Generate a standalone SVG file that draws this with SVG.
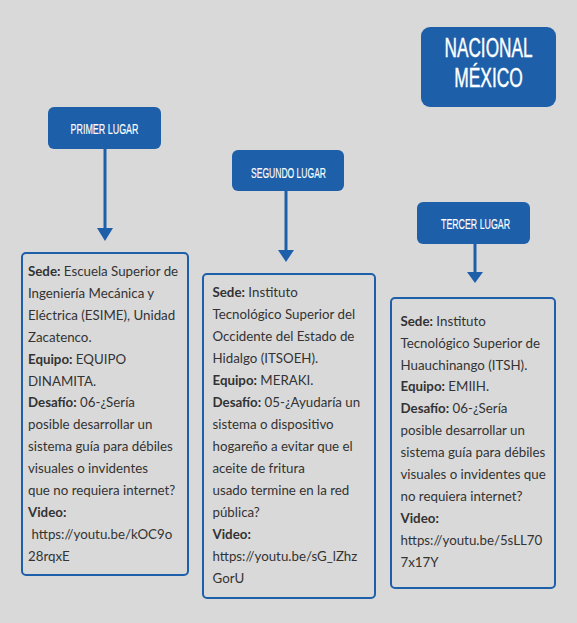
<svg xmlns="http://www.w3.org/2000/svg" width="577" height="623" viewBox="0 0 577 623">
<style>
.bg{fill:#d9d9d9}
.hdr{fill:#1e5fa9}
.ht{fill:#ffffff;stroke:#ffffff;stroke-width:0.45;font-family:"Liberation Sans",Arial,sans-serif;text-anchor:middle}
.hs{stroke-width:0.15}
.card{fill:#d9d9d9;stroke:#1e5fa9;stroke-width:2}
.tx{font-family:Lato,"Open Sans",sans-serif;font-size:13.3px;fill:#333333}
.b{font-weight:bold}
.ln{stroke:#1e5fa9;stroke-width:3;fill:none}
.ah{fill:#1e5fa9}
</style>
<rect class="bg" x="0" y="0" width="577" height="623"/>
<g id="nacional">
<rect class="hdr" x="421" y="27" width="135" height="80" rx="9"/>
<g transform="translate(488.5,0) scale(0.6,1)">
<text class="ht" x="0" y="57" font-size="28" textLength="146.7" lengthAdjust="spacingAndGlyphs">NACIONAL</text>
<text class="ht" x="0" y="87" font-size="28" textLength="114.5" lengthAdjust="spacingAndGlyphs">MÉXICO</text>
</g>
</g>
<g id="primer">
<rect class="hdr" x="48" y="107" width="113" height="42" rx="6"/>
<g transform="translate(104.5,0) scale(0.6,1)">
<text class="ht hs" x="0" y="134" font-size="14" textLength="113.3" lengthAdjust="spacingAndGlyphs">PRIMER LUGAR</text>
</g>
</g>
<g id="segundo">
<rect class="hdr" x="232" y="150" width="112" height="41" rx="6"/>
<g transform="translate(288.5,0) scale(0.6,1)">
<text class="ht hs" x="0" y="178" font-size="14" textLength="125" lengthAdjust="spacingAndGlyphs">SEGUNDO LUGAR</text>
</g>
</g>
<g id="tercer">
<rect class="hdr" x="417" y="202" width="113" height="42" rx="6"/>
<g transform="translate(475.5,0) scale(0.6,1)">
<text class="ht hs" x="0" y="229" font-size="14" textLength="115" lengthAdjust="spacingAndGlyphs">TERCER LUGAR</text>
</g>
</g>
<g id="connectors">
<line class="ln" x1="105" y1="149" x2="105" y2="230"/>
<polygon class="ah" points="97,228 113,228 105,241"/>
<line class="ln" x1="286" y1="191" x2="286" y2="251"/>
<polygon class="ah" points="278,250 294,250 286,262"/>
<line class="ln" x1="475" y1="244" x2="475" y2="273"/>
<polygon class="ah" points="467,272 483,272 475,283"/>
</g>
<g id="card1">
<rect class="card" x="22" y="253" width="166" height="322" rx="4"/>
<text class="tx">
<tspan x="28" y="276"><tspan class="b">Sede:</tspan> Escuela Superior de</tspan>
<tspan x="28" y="297.9">Ingeniería Mecánica y</tspan>
<tspan x="28" y="319.8">Eléctrica (ESIME), Unidad</tspan>
<tspan x="28" y="341.7">Zacatenco.</tspan>
<tspan x="28" y="363.6"><tspan class="b">Equipo:</tspan> EQUIPO</tspan>
<tspan x="28" y="385.5">DINAMITA.</tspan>
<tspan x="28" y="407.4"><tspan class="b">Desafío:</tspan> 06-¿Sería</tspan>
<tspan x="28" y="429.3">posible desarrollar un</tspan>
<tspan x="28" y="451.2">sistema guía para débiles</tspan>
<tspan x="28" y="473.1">visuales o invidentes</tspan>
<tspan x="28" y="495">que no requiera internet?</tspan>
<tspan x="28" y="516.9" class="b">Video:</tspan>
<tspan x="31.5" y="538.8">https://youtu.be/kOC9o</tspan>
<tspan x="28" y="560.7">28rqxE</tspan>
</text>
</g>
<g id="card2">
<rect class="card" x="203" y="274" width="172" height="324" rx="4"/>
<text class="tx">
<tspan x="212.5" y="296.7"><tspan class="b">Sede:</tspan> Instituto</tspan>
<tspan x="212.5" y="318.7">Tecnológico Superior del</tspan>
<tspan x="212.5" y="340.7">Occidente del Estado de</tspan>
<tspan x="212.5" y="362.7">Hidalgo (ITSOEH).</tspan>
<tspan x="212.5" y="384.7"><tspan class="b">Equipo:</tspan> MERAKI.</tspan>
<tspan x="212.5" y="406.7"><tspan class="b">Desafío:</tspan> 05-¿Ayudaría un</tspan>
<tspan x="212.5" y="428.7">sistema o dispositivo</tspan>
<tspan x="212.5" y="450.7">hogareño a evitar que el</tspan>
<tspan x="212.5" y="472.7">aceite de fritura</tspan>
<tspan x="212.5" y="494.7">usado termine en la red</tspan>
<tspan x="212.5" y="516.7">pública?</tspan>
<tspan x="212.5" y="538.7" class="b">Video:</tspan>
<tspan x="212.5" y="560.7">https://youtu.be/sG_lZhz</tspan>
<tspan x="212.5" y="582.7">GorU</tspan>
</text>
</g>
<g id="card3">
<rect class="card" x="391" y="298" width="164" height="290" rx="4"/>
<text class="tx">
<tspan x="400.5" y="325.7"><tspan class="b">Sede:</tspan> Instituto</tspan>
<tspan x="400.5" y="347.6">Tecnológico Superior de</tspan>
<tspan x="400.5" y="369.5">Huauchinango (ITSH).</tspan>
<tspan x="400.5" y="391.4"><tspan class="b">Equipo:</tspan> EMIIH.</tspan>
<tspan x="400.5" y="413.3"><tspan class="b">Desafío:</tspan> 06-¿Sería</tspan>
<tspan x="400.5" y="435.2">posible desarrollar un</tspan>
<tspan x="400.5" y="457.1">sistema guía para débiles</tspan>
<tspan x="400.5" y="479">visuales o invidentes que</tspan>
<tspan x="400.5" y="500.9">no requiera internet?</tspan>
<tspan x="400.5" y="522.8" class="b">Video:</tspan>
<tspan x="400.5" y="544.7">https://youtu.be/5sLL70</tspan>
<tspan x="400.5" y="566.6">7x17Y</tspan>
</text>
</g>
</svg>
